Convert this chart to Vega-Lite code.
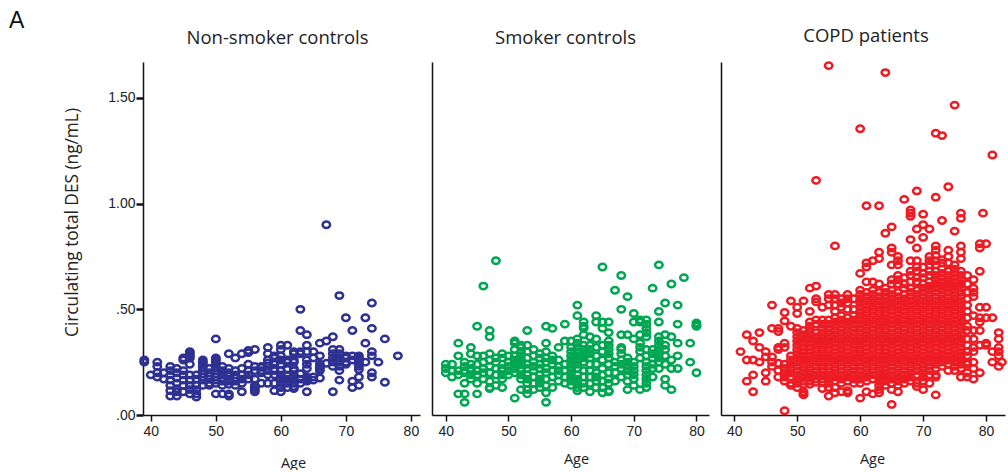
{"$schema":"https://vega.github.io/schema/vega-lite/v6.json","background":"white","padding":{"left":9,"top":9,"right":0,"bottom":0},"title":{"text":"A","anchor":"start","frame":"bounds","font":"Liberation Sans","fontSize":23,"fontWeight":"normal","color":"#111111","dx":-54,"offset":-6},"spacing":12,"config":{"view":{"stroke":null},"axis":{"grid":false,"domainColor":"#111111","domainWidth":1.5,"tickColor":"#111111","labelColor":"#222222","labelFont":"Liberation Sans","labelFontSize":14,"titleFont":"Open Sans","titleFontWeight":"normal","titleColor":"#222222"}},
"datasets":{"non":[
{"age":39,"des":0.26},{"age":39,"des":0.25},{"age":40,"des":0.19},{"age":41,"des":0.25},{"age":41,"des":0.23},{"age":41,"des":0.2},{"age":41,"des":0.18},{"age":42,"des":0.2},{"age":42,"des":0.17},
{"age":43,"des":0.23},{"age":43,"des":0.21},{"age":43,"des":0.19},{"age":43,"des":0.165},{"age":43,"des":0.14},{"age":43,"des":0.115},{"age":43,"des":0.09},
{"age":44,"des":0.22},{"age":44,"des":0.2},{"age":44,"des":0.175},{"age":44,"des":0.15},{"age":44,"des":0.125},{"age":44,"des":0.11},{"age":44,"des":0.09},
{"age":45,"des":0.27},{"age":45,"des":0.26},{"age":45,"des":0.21},{"age":45,"des":0.19},{"age":45,"des":0.165},{"age":45,"des":0.14},{"age":45,"des":0.11},
{"age":46,"des":0.3},{"age":46,"des":0.29},{"age":46,"des":0.28},{"age":46,"des":0.27},{"age":46,"des":0.24},{"age":46,"des":0.19},{"age":46,"des":0.165},{"age":46,"des":0.14},{"age":46,"des":0.12},{"age":46,"des":0.1},
{"age":47,"des":0.19},{"age":47,"des":0.17},{"age":47,"des":0.14},{"age":47,"des":0.12},{"age":47,"des":0.1},{"age":47,"des":0.085},
{"age":48,"des":0.26},{"age":48,"des":0.25},{"age":48,"des":0.24},{"age":48,"des":0.225},{"age":48,"des":0.21},{"age":48,"des":0.195},{"age":48,"des":0.18},{"age":48,"des":0.165},{"age":48,"des":0.14},
{"age":49,"des":0.22},{"age":49,"des":0.2},{"age":49,"des":0.185},{"age":49,"des":0.17},{"age":49,"des":0.15},{"age":49,"des":0.14},
{"age":50,"des":0.36},{"age":50,"des":0.27},{"age":50,"des":0.26},{"age":50,"des":0.25},{"age":50,"des":0.24},{"age":50,"des":0.225},{"age":50,"des":0.21},{"age":50,"des":0.195},{"age":50,"des":0.18},{"age":50,"des":0.165},{"age":50,"des":0.15},{"age":50,"des":0.1},
{"age":51,"des":0.23},{"age":51,"des":0.21},{"age":51,"des":0.2},{"age":51,"des":0.19},{"age":51,"des":0.175},{"age":51,"des":0.16},{"age":51,"des":0.14},{"age":51,"des":0.1},
{"age":52,"des":0.29},{"age":52,"des":0.22},{"age":52,"des":0.2},{"age":52,"des":0.185},{"age":52,"des":0.17},{"age":52,"des":0.16},{"age":52,"des":0.145},{"age":52,"des":0.1},{"age":52,"des":0.09},
{"age":53,"des":0.27},{"age":53,"des":0.21},{"age":53,"des":0.19},{"age":53,"des":0.175},{"age":53,"des":0.16},{"age":53,"des":0.14},
{"age":54,"des":0.29},{"age":54,"des":0.22},{"age":54,"des":0.19},{"age":54,"des":0.17},{"age":54,"des":0.15},{"age":54,"des":0.11},
{"age":55,"des":0.305},{"age":55,"des":0.295},{"age":55,"des":0.24},{"age":55,"des":0.21},{"age":55,"des":0.19},{"age":55,"des":0.17},
{"age":56,"des":0.31},{"age":56,"des":0.23},{"age":56,"des":0.21},{"age":56,"des":0.17},{"age":56,"des":0.14},{"age":56,"des":0.13},{"age":56,"des":0.12},{"age":56,"des":0.11},
{"age":57,"des":0.23},{"age":57,"des":0.225},{"age":57,"des":0.21},{"age":57,"des":0.2},{"age":57,"des":0.15},
{"age":58,"des":0.32},{"age":58,"des":0.29},{"age":58,"des":0.26},{"age":58,"des":0.245},{"age":58,"des":0.23},{"age":58,"des":0.21},{"age":58,"des":0.19},{"age":58,"des":0.15},
{"age":59,"des":0.28},{"age":59,"des":0.27},{"age":59,"des":0.25},{"age":59,"des":0.24},{"age":59,"des":0.21},{"age":59,"des":0.19},{"age":59,"des":0.15},{"age":59,"des":0.115},
{"age":60,"des":0.33},{"age":60,"des":0.31},{"age":60,"des":0.28},{"age":60,"des":0.26},{"age":60,"des":0.24},{"age":60,"des":0.21},{"age":60,"des":0.19},{"age":60,"des":0.17},{"age":60,"des":0.15},{"age":60,"des":0.13},{"age":60,"des":0.11},
{"age":61,"des":0.33},{"age":61,"des":0.26},{"age":61,"des":0.25},{"age":61,"des":0.215},{"age":61,"des":0.19},{"age":61,"des":0.17},{"age":61,"des":0.15},{"age":61,"des":0.13},
{"age":62,"des":0.3},{"age":62,"des":0.29},{"age":62,"des":0.26},{"age":62,"des":0.25},{"age":62,"des":0.22},{"age":62,"des":0.21},{"age":62,"des":0.19},{"age":62,"des":0.17},{"age":62,"des":0.15},{"age":62,"des":0.135},{"age":62,"des":0.125},
{"age":63,"des":0.5},{"age":63,"des":0.4},{"age":63,"des":0.3},{"age":63,"des":0.29},{"age":63,"des":0.195},{"age":63,"des":0.17},{"age":63,"des":0.15},
{"age":64,"des":0.38},{"age":64,"des":0.33},{"age":64,"des":0.3},{"age":64,"des":0.26},{"age":64,"des":0.24},{"age":64,"des":0.22},{"age":64,"des":0.18},{"age":64,"des":0.17},{"age":64,"des":0.16},{"age":64,"des":0.11},
{"age":65,"des":0.3},{"age":65,"des":0.27},{"age":65,"des":0.18},{"age":65,"des":0.165},
{"age":66,"des":0.34},{"age":66,"des":0.28},{"age":66,"des":0.24},{"age":66,"des":0.23},{"age":66,"des":0.22},{"age":66,"des":0.21},{"age":66,"des":0.175},
{"age":67,"des":0.9},{"age":67,"des":0.35},{"age":67,"des":0.245},
{"age":68,"des":0.37},{"age":68,"des":0.31},{"age":68,"des":0.29},{"age":68,"des":0.27},{"age":68,"des":0.25},{"age":68,"des":0.23},{"age":68,"des":0.11},
{"age":69,"des":0.565},{"age":69,"des":0.31},{"age":69,"des":0.29},{"age":69,"des":0.27},{"age":69,"des":0.25},{"age":69,"des":0.23},{"age":69,"des":0.21},{"age":69,"des":0.165},
{"age":70,"des":0.46},{"age":70,"des":0.28},{"age":70,"des":0.27},{"age":70,"des":0.25},{"age":70,"des":0.24},
{"age":71,"des":0.4},{"age":71,"des":0.28},{"age":71,"des":0.26},{"age":71,"des":0.16},{"age":71,"des":0.13},
{"age":72,"des":0.28},{"age":72,"des":0.27},{"age":72,"des":0.26},{"age":72,"des":0.25},{"age":72,"des":0.24},{"age":72,"des":0.23},{"age":72,"des":0.215},{"age":72,"des":0.18},{"age":72,"des":0.14},
{"age":73,"des":0.46},{"age":73,"des":0.34},{"age":73,"des":0.25},
{"age":74,"des":0.53},{"age":74,"des":0.41},{"age":74,"des":0.3},{"age":74,"des":0.28},{"age":74,"des":0.2},{"age":74,"des":0.18},
{"age":75,"des":0.25},{"age":76,"des":0.36},{"age":76,"des":0.155},{"age":78,"des":0.28}],
"smk":[
{"age":40,"des":0.24},{"age":40,"des":0.22},{"age":40,"des":0.2},{"age":41,"des":0.24},{"age":41,"des":0.21},{"age":41,"des":0.18},
{"age":42,"des":0.34},{"age":42,"des":0.28},{"age":42,"des":0.21},{"age":42,"des":0.19},{"age":42,"des":0.1},
{"age":43,"des":0.25},{"age":43,"des":0.23},{"age":43,"des":0.21},{"age":43,"des":0.2},{"age":43,"des":0.15},{"age":43,"des":0.1},{"age":43,"des":0.06},
{"age":44,"des":0.32},{"age":44,"des":0.29},{"age":44,"des":0.24},{"age":44,"des":0.22},{"age":44,"des":0.21},{"age":44,"des":0.19},{"age":44,"des":0.17},
{"age":45,"des":0.42},{"age":45,"des":0.28},{"age":45,"des":0.24},{"age":45,"des":0.21},{"age":45,"des":0.19},{"age":45,"des":0.15},{"age":45,"des":0.1},
{"age":46,"des":0.61},{"age":46,"des":0.28},{"age":46,"des":0.25},{"age":46,"des":0.22},{"age":46,"des":0.2},{"age":46,"des":0.17},
{"age":47,"des":0.4},{"age":47,"des":0.37},{"age":47,"des":0.29},{"age":47,"des":0.26},{"age":47,"des":0.23},{"age":47,"des":0.2},{"age":47,"des":0.16},{"age":47,"des":0.13},{"age":47,"des":0.125},
{"age":48,"des":0.73},{"age":48,"des":0.27},{"age":48,"des":0.25},{"age":48,"des":0.22},{"age":48,"des":0.19},{"age":48,"des":0.14},
{"age":49,"des":0.29},{"age":49,"des":0.27},{"age":49,"des":0.22},{"age":49,"des":0.21},{"age":49,"des":0.19},{"age":49,"des":0.17},{"age":49,"des":0.13},
{"age":50,"des":0.28},{"age":50,"des":0.25},{"age":50,"des":0.23},{"age":50,"des":0.21},{"age":50,"des":0.19},
{"age":51,"des":0.35},{"age":51,"des":0.34},{"age":51,"des":0.31},{"age":51,"des":0.28},{"age":51,"des":0.26},{"age":51,"des":0.24},{"age":51,"des":0.22},{"age":51,"des":0.2},{"age":51,"des":0.08},
{"age":52,"des":0.33},{"age":52,"des":0.32},{"age":52,"des":0.3},{"age":52,"des":0.28},{"age":52,"des":0.26},{"age":52,"des":0.24},{"age":52,"des":0.22},{"age":52,"des":0.21},{"age":52,"des":0.19},{"age":52,"des":0.17},{"age":52,"des":0.12},
{"age":53,"des":0.4},{"age":53,"des":0.33},{"age":53,"des":0.3},{"age":53,"des":0.27},{"age":53,"des":0.24},{"age":53,"des":0.22},{"age":53,"des":0.19},{"age":53,"des":0.17},{"age":53,"des":0.15},{"age":53,"des":0.12},{"age":53,"des":0.1},
{"age":54,"des":0.31},{"age":54,"des":0.28},{"age":54,"des":0.25},{"age":54,"des":0.23},{"age":54,"des":0.21},{"age":54,"des":0.18},{"age":54,"des":0.15},{"age":54,"des":0.12},
{"age":55,"des":0.29},{"age":55,"des":0.27},{"age":55,"des":0.24},{"age":55,"des":0.22},{"age":55,"des":0.19},{"age":55,"des":0.17},{"age":55,"des":0.15},{"age":55,"des":0.13},
{"age":56,"des":0.42},{"age":56,"des":0.34},{"age":56,"des":0.3},{"age":56,"des":0.27},{"age":56,"des":0.25},{"age":56,"des":0.22},{"age":56,"des":0.2},{"age":56,"des":0.17},{"age":56,"des":0.14},{"age":56,"des":0.105},{"age":56,"des":0.06},
{"age":57,"des":0.41},{"age":57,"des":0.28},{"age":57,"des":0.26},{"age":57,"des":0.24},{"age":57,"des":0.21},{"age":57,"des":0.18},{"age":57,"des":0.13},
{"age":58,"des":0.32},{"age":58,"des":0.26},{"age":58,"des":0.23},{"age":58,"des":0.21},{"age":58,"des":0.19},{"age":58,"des":0.16},
{"age":59,"des":0.43},{"age":59,"des":0.35},{"age":59,"des":0.24},{"age":59,"des":0.21},{"age":59,"des":0.18},{"age":59,"des":0.15},
{"age":60,"des":0.35},{"age":60,"des":0.32},{"age":60,"des":0.3},{"age":60,"des":0.28},{"age":60,"des":0.26},{"age":60,"des":0.24},{"age":60,"des":0.22},{"age":60,"des":0.2},{"age":60,"des":0.18},{"age":60,"des":0.16},{"age":60,"des":0.14},
{"age":61,"des":0.52},{"age":61,"des":0.47},{"age":61,"des":0.36},{"age":61,"des":0.34},{"age":61,"des":0.32},{"age":61,"des":0.3},{"age":61,"des":0.28},{"age":61,"des":0.26},{"age":61,"des":0.24},{"age":61,"des":0.22},{"age":61,"des":0.19},{"age":61,"des":0.17},{"age":61,"des":0.15},{"age":61,"des":0.13},{"age":61,"des":0.115},
{"age":62,"des":0.44},{"age":62,"des":0.42},{"age":62,"des":0.41},{"age":62,"des":0.38},{"age":62,"des":0.33},{"age":62,"des":0.31},{"age":62,"des":0.29},{"age":62,"des":0.27},{"age":62,"des":0.25},{"age":62,"des":0.21},{"age":62,"des":0.18},{"age":62,"des":0.15},{"age":62,"des":0.13},
{"age":63,"des":0.37},{"age":63,"des":0.33},{"age":63,"des":0.31},{"age":63,"des":0.29},{"age":63,"des":0.27},{"age":63,"des":0.24},{"age":63,"des":0.21},{"age":63,"des":0.18},{"age":63,"des":0.15},{"age":63,"des":0.11},
{"age":64,"des":0.47},{"age":64,"des":0.44},{"age":64,"des":0.36},{"age":64,"des":0.32},{"age":64,"des":0.28},{"age":64,"des":0.24},{"age":64,"des":0.2},{"age":64,"des":0.18},{"age":64,"des":0.16},{"age":64,"des":0.13},
{"age":65,"des":0.7},{"age":65,"des":0.44},{"age":65,"des":0.41},{"age":65,"des":0.33},{"age":65,"des":0.3},{"age":65,"des":0.26},{"age":65,"des":0.22},{"age":65,"des":0.19},{"age":65,"des":0.16},{"age":65,"des":0.13},{"age":65,"des":0.105},
{"age":66,"des":0.44},{"age":66,"des":0.39},{"age":66,"des":0.35},{"age":66,"des":0.33},{"age":66,"des":0.31},{"age":66,"des":0.29},{"age":66,"des":0.27},{"age":66,"des":0.24},{"age":66,"des":0.2},{"age":66,"des":0.17},{"age":66,"des":0.15},{"age":66,"des":0.115},{"age":66,"des":0.11},
{"age":67,"des":0.59},{"age":67,"des":0.25},{"age":67,"des":0.23},{"age":67,"des":0.2},{"age":67,"des":0.16},
{"age":68,"des":0.66},{"age":68,"des":0.5},{"age":68,"des":0.38},{"age":68,"des":0.32},{"age":68,"des":0.31},{"age":68,"des":0.29},{"age":68,"des":0.26},{"age":68,"des":0.24},{"age":68,"des":0.22},{"age":68,"des":0.18},
{"age":69,"des":0.56},{"age":69,"des":0.38},{"age":69,"des":0.27},{"age":69,"des":0.25},{"age":69,"des":0.23},{"age":69,"des":0.21},{"age":69,"des":0.19},{"age":69,"des":0.16},{"age":69,"des":0.12},
{"age":70,"des":0.48},{"age":70,"des":0.44},{"age":70,"des":0.36},{"age":70,"des":0.25},{"age":70,"des":0.23},{"age":70,"des":0.21},{"age":70,"des":0.19},{"age":70,"des":0.17},{"age":70,"des":0.14},
{"age":71,"des":0.45},{"age":71,"des":0.44},{"age":71,"des":0.38},{"age":71,"des":0.34},{"age":71,"des":0.32},{"age":71,"des":0.3},{"age":71,"des":0.27},{"age":71,"des":0.12},
{"age":72,"des":0.45},{"age":72,"des":0.43},{"age":72,"des":0.41},{"age":72,"des":0.39},{"age":72,"des":0.37},{"age":72,"des":0.31},{"age":72,"des":0.28},{"age":72,"des":0.25},{"age":72,"des":0.23},{"age":72,"des":0.21},{"age":72,"des":0.19},{"age":72,"des":0.17},{"age":72,"des":0.15},{"age":72,"des":0.13},
{"age":73,"des":0.6},{"age":73,"des":0.31},{"age":73,"des":0.29},{"age":73,"des":0.27},{"age":73,"des":0.24},{"age":73,"des":0.22},{"age":73,"des":0.18},
{"age":74,"des":0.71},{"age":74,"des":0.49},{"age":74,"des":0.44},{"age":74,"des":0.37},{"age":74,"des":0.35},{"age":74,"des":0.33},{"age":74,"des":0.31},{"age":74,"des":0.29},{"age":74,"des":0.27},{"age":74,"des":0.25},{"age":74,"des":0.22},
{"age":75,"des":0.53},{"age":75,"des":0.38},{"age":75,"des":0.33},{"age":75,"des":0.31},{"age":75,"des":0.28},{"age":75,"des":0.24},{"age":75,"des":0.17},{"age":75,"des":0.14},
{"age":76,"des":0.62},{"age":76,"des":0.37},{"age":76,"des":0.26},{"age":76,"des":0.22},{"age":76,"des":0.12},
{"age":77,"des":0.52},{"age":77,"des":0.43},{"age":77,"des":0.34},{"age":77,"des":0.28},{"age":77,"des":0.22},
{"age":78,"des":0.65},{"age":79,"des":0.34},{"age":79,"des":0.25},{"age":80,"des":0.435},{"age":80,"des":0.425},{"age":80,"des":0.42},{"age":80,"des":0.2}],
"copd":[
{"age":41,"des":0.3},{"age":42,"des":0.38},{"age":42,"des":0.26},{"age":42,"des":0.16},{"age":43,"des":0.35},{"age":43,"des":0.26},{"age":43,"des":0.19},{"age":43,"des":0.11},{"age":44,"des":0.39},{"age":44,"des":0.32},{"age":44,"des":0.25},
{"age":45,"des":0.3},{"age":45,"des":0.275},{"age":45,"des":0.2},{"age":45,"des":0.16},{"age":46,"des":0.52},{"age":46,"des":0.41},{"age":46,"des":0.275},{"age":46,"des":0.25},{"age":46,"des":0.23},
{"age":47,"des":0.41},{"age":47,"des":0.395},{"age":47,"des":0.32},{"age":47,"des":0.31},{"age":47,"des":0.245},{"age":47,"des":0.21},{"age":47,"des":0.18},
{"age":48,"des":0.485},{"age":48,"des":0.445},{"age":48,"des":0.34},{"age":48,"des":0.32},{"age":48,"des":0.24},{"age":48,"des":0.22},{"age":48,"des":0.2},{"age":48,"des":0.18},{"age":48,"des":0.16},{"age":48,"des":0.02},
{"age":49,"des":0.54},{"age":49,"des":0.42},{"age":49,"des":0.28},{"age":49,"des":0.26},{"age":49,"des":0.24},{"age":49,"des":0.22},{"age":49,"des":0.2},{"age":49,"des":0.18},{"age":49,"des":0.15},{"age":49,"des":0.14},
{"age":50,"des":0.51},{"age":50,"des":0.48},{"age":50,"des":0.41},{"age":50,"des":0.39},{"age":50,"des":0.37},{"age":50,"des":0.35},{"age":50,"des":0.33},{"age":50,"des":0.31},{"age":50,"des":0.29},{"age":50,"des":0.27},{"age":50,"des":0.25},{"age":50,"des":0.23},{"age":50,"des":0.21},{"age":50,"des":0.19},{"age":50,"des":0.17},{"age":50,"des":0.15},{"age":50,"des":0.13},
{"age":51,"des":0.54},{"age":51,"des":0.4},{"age":51,"des":0.38},{"age":51,"des":0.36},{"age":51,"des":0.34},{"age":51,"des":0.32},{"age":51,"des":0.3},{"age":51,"des":0.28},{"age":51,"des":0.26},{"age":51,"des":0.24},{"age":51,"des":0.22},{"age":51,"des":0.2},{"age":51,"des":0.18},{"age":51,"des":0.16},{"age":51,"des":0.145},{"age":51,"des":0.11},{"age":51,"des":0.1},{"age":51,"des":0.095},
{"age":52,"des":0.6},{"age":52,"des":0.49},{"age":52,"des":0.44},{"age":52,"des":0.42},{"age":52,"des":0.4},{"age":52,"des":0.38},{"age":52,"des":0.36},{"age":52,"des":0.34},{"age":52,"des":0.32},{"age":52,"des":0.3},{"age":52,"des":0.28},{"age":52,"des":0.26},{"age":52,"des":0.24},{"age":52,"des":0.22},{"age":52,"des":0.2},{"age":52,"des":0.18},{"age":52,"des":0.16},{"age":52,"des":0.145},
{"age":53,"des":1.11},{"age":53,"des":0.61},{"age":53,"des":0.55},{"age":53,"des":0.535},{"age":53,"des":0.45},{"age":53,"des":0.43},{"age":53,"des":0.39},{"age":53,"des":0.37},{"age":53,"des":0.35},{"age":53,"des":0.33},{"age":53,"des":0.31},{"age":53,"des":0.29},{"age":53,"des":0.27},{"age":53,"des":0.25},{"age":53,"des":0.23},{"age":53,"des":0.21},{"age":53,"des":0.19},{"age":53,"des":0.17},{"age":53,"des":0.155},
{"age":54,"des":0.51},{"age":54,"des":0.45},{"age":54,"des":0.43},{"age":54,"des":0.41},{"age":54,"des":0.39},{"age":54,"des":0.37},{"age":54,"des":0.35},{"age":54,"des":0.33},{"age":54,"des":0.31},{"age":54,"des":0.29},{"age":54,"des":0.27},{"age":54,"des":0.25},{"age":54,"des":0.23},{"age":54,"des":0.21},{"age":54,"des":0.19},{"age":54,"des":0.17},{"age":54,"des":0.155},{"age":54,"des":0.125},
{"age":55,"des":1.653},{"age":55,"des":0.57},{"age":55,"des":0.55},{"age":55,"des":0.52},{"age":55,"des":0.45},{"age":55,"des":0.43},{"age":55,"des":0.41},{"age":55,"des":0.39},{"age":55,"des":0.37},{"age":55,"des":0.35},{"age":55,"des":0.33},{"age":55,"des":0.31},{"age":55,"des":0.29},{"age":55,"des":0.27},{"age":55,"des":0.25},{"age":55,"des":0.23},{"age":55,"des":0.21},{"age":55,"des":0.19},{"age":55,"des":0.17},{"age":55,"des":0.15},{"age":55,"des":0.13},{"age":55,"des":0.09},
{"age":56,"des":0.8},{"age":56,"des":0.57},{"age":56,"des":0.55},{"age":56,"des":0.52},{"age":56,"des":0.49},{"age":56,"des":0.46},{"age":56,"des":0.44},{"age":56,"des":0.42},{"age":56,"des":0.4},{"age":56,"des":0.38},{"age":56,"des":0.36},{"age":56,"des":0.34},{"age":56,"des":0.32},{"age":56,"des":0.3},{"age":56,"des":0.28},{"age":56,"des":0.26},{"age":56,"des":0.24},{"age":56,"des":0.22},{"age":56,"des":0.2},{"age":56,"des":0.18},{"age":56,"des":0.16},{"age":56,"des":0.13},{"age":56,"des":0.105},
{"age":57,"des":0.55},{"age":57,"des":0.53},{"age":57,"des":0.51},{"age":57,"des":0.47},{"age":57,"des":0.45},{"age":57,"des":0.43},{"age":57,"des":0.41},{"age":57,"des":0.39},{"age":57,"des":0.37},{"age":57,"des":0.35},{"age":57,"des":0.33},{"age":57,"des":0.31},{"age":57,"des":0.29},{"age":57,"des":0.27},{"age":57,"des":0.25},{"age":57,"des":0.23},{"age":57,"des":0.21},{"age":57,"des":0.19},{"age":57,"des":0.17},{"age":57,"des":0.15},{"age":57,"des":0.11},
{"age":58,"des":0.57},{"age":58,"des":0.55},{"age":58,"des":0.53},{"age":58,"des":0.5},{"age":58,"des":0.46},{"age":58,"des":0.44},{"age":58,"des":0.42},{"age":58,"des":0.4},{"age":58,"des":0.38},{"age":58,"des":0.36},{"age":58,"des":0.34},{"age":58,"des":0.32},{"age":58,"des":0.3},{"age":58,"des":0.28},{"age":58,"des":0.26},{"age":58,"des":0.24},{"age":58,"des":0.22},{"age":58,"des":0.2},{"age":58,"des":0.18},{"age":58,"des":0.16},{"age":58,"des":0.115},{"age":58,"des":0.105},
{"age":59,"des":0.55},{"age":59,"des":0.5},{"age":59,"des":0.47},{"age":59,"des":0.45},{"age":59,"des":0.43},{"age":59,"des":0.41},{"age":59,"des":0.39},{"age":59,"des":0.37},{"age":59,"des":0.35},{"age":59,"des":0.33},{"age":59,"des":0.31},{"age":59,"des":0.29},{"age":59,"des":0.27},{"age":59,"des":0.25},{"age":59,"des":0.23},{"age":59,"des":0.21},{"age":59,"des":0.19},{"age":59,"des":0.17},{"age":59,"des":0.15},
{"age":60,"des":1.354},{"age":60,"des":0.67},{"age":60,"des":0.59},{"age":60,"des":0.57},{"age":60,"des":0.55},{"age":60,"des":0.53},{"age":60,"des":0.51},{"age":60,"des":0.49},{"age":60,"des":0.47},{"age":60,"des":0.45},{"age":60,"des":0.43},{"age":60,"des":0.41},{"age":60,"des":0.39},{"age":60,"des":0.37},{"age":60,"des":0.35},{"age":60,"des":0.33},{"age":60,"des":0.31},{"age":60,"des":0.29},{"age":60,"des":0.27},{"age":60,"des":0.25},{"age":60,"des":0.23},{"age":60,"des":0.21},{"age":60,"des":0.19},{"age":60,"des":0.17},{"age":60,"des":0.15},{"age":60,"des":0.08},
{"age":61,"des":0.99},{"age":61,"des":0.72},{"age":61,"des":0.7},{"age":61,"des":0.63},{"age":61,"des":0.58},{"age":61,"des":0.56},{"age":61,"des":0.54},{"age":61,"des":0.52},{"age":61,"des":0.5},{"age":61,"des":0.48},{"age":61,"des":0.46},{"age":61,"des":0.44},{"age":61,"des":0.42},{"age":61,"des":0.4},{"age":61,"des":0.38},{"age":61,"des":0.36},{"age":61,"des":0.34},{"age":61,"des":0.32},{"age":61,"des":0.3},{"age":61,"des":0.28},{"age":61,"des":0.26},{"age":61,"des":0.24},{"age":61,"des":0.22},{"age":61,"des":0.2},{"age":61,"des":0.18},{"age":61,"des":0.16},{"age":61,"des":0.11},
{"age":62,"des":0.73},{"age":62,"des":0.63},{"age":62,"des":0.59},{"age":62,"des":0.57},{"age":62,"des":0.55},{"age":62,"des":0.53},{"age":62,"des":0.51},{"age":62,"des":0.49},{"age":62,"des":0.47},{"age":62,"des":0.45},{"age":62,"des":0.43},{"age":62,"des":0.41},{"age":62,"des":0.39},{"age":62,"des":0.37},{"age":62,"des":0.35},{"age":62,"des":0.33},{"age":62,"des":0.31},{"age":62,"des":0.29},{"age":62,"des":0.27},{"age":62,"des":0.25},{"age":62,"des":0.23},{"age":62,"des":0.21},{"age":62,"des":0.19},{"age":62,"des":0.17},{"age":62,"des":0.1},
{"age":63,"des":0.99},{"age":63,"des":0.77},{"age":63,"des":0.74},{"age":63,"des":0.62},{"age":63,"des":0.58},{"age":63,"des":0.56},{"age":63,"des":0.54},{"age":63,"des":0.52},{"age":63,"des":0.5},{"age":63,"des":0.48},{"age":63,"des":0.46},{"age":63,"des":0.44},{"age":63,"des":0.42},{"age":63,"des":0.4},{"age":63,"des":0.38},{"age":63,"des":0.36},{"age":63,"des":0.34},{"age":63,"des":0.32},{"age":63,"des":0.3},{"age":63,"des":0.28},{"age":63,"des":0.26},{"age":63,"des":0.24},{"age":63,"des":0.22},{"age":63,"des":0.2},{"age":63,"des":0.18},{"age":63,"des":0.16},{"age":63,"des":0.14},{"age":63,"des":0.12},{"age":63,"des":0.105},
{"age":64,"des":1.62},{"age":64,"des":0.86},{"age":64,"des":0.6},{"age":64,"des":0.58},{"age":64,"des":0.56},{"age":64,"des":0.54},{"age":64,"des":0.52},{"age":64,"des":0.5},{"age":64,"des":0.48},{"age":64,"des":0.46},{"age":64,"des":0.44},{"age":64,"des":0.42},{"age":64,"des":0.4},{"age":64,"des":0.38},{"age":64,"des":0.36},{"age":64,"des":0.34},{"age":64,"des":0.32},{"age":64,"des":0.3},{"age":64,"des":0.28},{"age":64,"des":0.26},{"age":64,"des":0.24},{"age":64,"des":0.22},{"age":64,"des":0.2},{"age":64,"des":0.18},{"age":64,"des":0.16},{"age":64,"des":0.14},
{"age":65,"des":0.89},{"age":65,"des":0.79},{"age":65,"des":0.77},{"age":65,"des":0.71},{"age":65,"des":0.64},{"age":65,"des":0.62},{"age":65,"des":0.59},{"age":65,"des":0.57},{"age":65,"des":0.55},{"age":65,"des":0.53},{"age":65,"des":0.51},{"age":65,"des":0.49},{"age":65,"des":0.47},{"age":65,"des":0.45},{"age":65,"des":0.43},{"age":65,"des":0.41},{"age":65,"des":0.39},{"age":65,"des":0.37},{"age":65,"des":0.35},{"age":65,"des":0.33},{"age":65,"des":0.31},{"age":65,"des":0.29},{"age":65,"des":0.27},{"age":65,"des":0.25},{"age":65,"des":0.23},{"age":65,"des":0.21},{"age":65,"des":0.19},{"age":65,"des":0.17},{"age":65,"des":0.15},{"age":65,"des":0.12},{"age":65,"des":0.05},
{"age":66,"des":0.75},{"age":66,"des":0.73},{"age":66,"des":0.71},{"age":66,"des":0.66},{"age":66,"des":0.64},{"age":66,"des":0.62},{"age":66,"des":0.58},{"age":66,"des":0.56},{"age":66,"des":0.54},{"age":66,"des":0.52},{"age":66,"des":0.5},{"age":66,"des":0.48},{"age":66,"des":0.46},{"age":66,"des":0.44},{"age":66,"des":0.42},{"age":66,"des":0.4},{"age":66,"des":0.38},{"age":66,"des":0.36},{"age":66,"des":0.34},{"age":66,"des":0.32},{"age":66,"des":0.3},{"age":66,"des":0.28},{"age":66,"des":0.26},{"age":66,"des":0.24},{"age":66,"des":0.22},{"age":66,"des":0.2},{"age":66,"des":0.18},{"age":66,"des":0.16},{"age":66,"des":0.14},{"age":66,"des":0.11},
{"age":67,"des":1.02},{"age":67,"des":0.65},{"age":67,"des":0.62},{"age":67,"des":0.6},{"age":67,"des":0.57},{"age":67,"des":0.55},{"age":67,"des":0.53},{"age":67,"des":0.51},{"age":67,"des":0.49},{"age":67,"des":0.47},{"age":67,"des":0.45},{"age":67,"des":0.43},{"age":67,"des":0.41},{"age":67,"des":0.39},{"age":67,"des":0.37},{"age":67,"des":0.35},{"age":67,"des":0.33},{"age":67,"des":0.31},{"age":67,"des":0.29},{"age":67,"des":0.27},{"age":67,"des":0.25},{"age":67,"des":0.23},{"age":67,"des":0.21},{"age":67,"des":0.19},{"age":67,"des":0.17},{"age":67,"des":0.15},
{"age":68,"des":0.97},{"age":68,"des":0.955},{"age":68,"des":0.94},{"age":68,"des":0.83},{"age":68,"des":0.73},{"age":68,"des":0.68},{"age":68,"des":0.66},{"age":68,"des":0.63},{"age":68,"des":0.6},{"age":68,"des":0.58},{"age":68,"des":0.56},{"age":68,"des":0.54},{"age":68,"des":0.52},{"age":68,"des":0.5},{"age":68,"des":0.48},{"age":68,"des":0.46},{"age":68,"des":0.44},{"age":68,"des":0.42},{"age":68,"des":0.4},{"age":68,"des":0.38},{"age":68,"des":0.36},{"age":68,"des":0.34},{"age":68,"des":0.32},{"age":68,"des":0.3},{"age":68,"des":0.28},{"age":68,"des":0.26},{"age":68,"des":0.24},{"age":68,"des":0.22},{"age":68,"des":0.2},{"age":68,"des":0.18},{"age":68,"des":0.16},
{"age":69,"des":1.06},{"age":69,"des":0.88},{"age":69,"des":0.79},{"age":69,"des":0.73},{"age":69,"des":0.7},{"age":69,"des":0.68},{"age":69,"des":0.65},{"age":69,"des":0.63},{"age":69,"des":0.59},{"age":69,"des":0.57},{"age":69,"des":0.55},{"age":69,"des":0.53},{"age":69,"des":0.51},{"age":69,"des":0.49},{"age":69,"des":0.47},{"age":69,"des":0.45},{"age":69,"des":0.43},{"age":69,"des":0.41},{"age":69,"des":0.39},{"age":69,"des":0.37},{"age":69,"des":0.35},{"age":69,"des":0.33},{"age":69,"des":0.31},{"age":69,"des":0.29},{"age":69,"des":0.27},{"age":69,"des":0.25},{"age":69,"des":0.23},{"age":69,"des":0.21},{"age":69,"des":0.19},{"age":69,"des":0.15},{"age":69,"des":0.135},
{"age":70,"des":0.95},{"age":70,"des":0.9},{"age":70,"des":0.84},{"age":70,"des":0.7},{"age":70,"des":0.67},{"age":70,"des":0.65},{"age":70,"des":0.62},{"age":70,"des":0.6},{"age":70,"des":0.58},{"age":70,"des":0.56},{"age":70,"des":0.54},{"age":70,"des":0.52},{"age":70,"des":0.5},{"age":70,"des":0.48},{"age":70,"des":0.46},{"age":70,"des":0.44},{"age":70,"des":0.42},{"age":70,"des":0.4},{"age":70,"des":0.38},{"age":70,"des":0.36},{"age":70,"des":0.34},{"age":70,"des":0.32},{"age":70,"des":0.3},{"age":70,"des":0.28},{"age":70,"des":0.26},{"age":70,"des":0.24},{"age":70,"des":0.22},{"age":70,"des":0.2},{"age":70,"des":0.18},{"age":70,"des":0.16},{"age":70,"des":0.12},
{"age":71,"des":0.88},{"age":71,"des":0.75},{"age":71,"des":0.73},{"age":71,"des":0.71},{"age":71,"des":0.68},{"age":71,"des":0.66},{"age":71,"des":0.63},{"age":71,"des":0.61},{"age":71,"des":0.59},{"age":71,"des":0.57},{"age":71,"des":0.55},{"age":71,"des":0.53},{"age":71,"des":0.51},{"age":71,"des":0.49},{"age":71,"des":0.47},{"age":71,"des":0.45},{"age":71,"des":0.43},{"age":71,"des":0.41},{"age":71,"des":0.39},{"age":71,"des":0.37},{"age":71,"des":0.35},{"age":71,"des":0.33},{"age":71,"des":0.31},{"age":71,"des":0.29},{"age":71,"des":0.27},{"age":71,"des":0.25},{"age":71,"des":0.23},{"age":71,"des":0.21},{"age":71,"des":0.19},{"age":71,"des":0.15},
{"age":72,"des":1.333},{"age":72,"des":1.03},{"age":72,"des":0.8},{"age":72,"des":0.78},{"age":72,"des":0.755},{"age":72,"des":0.73},{"age":72,"des":0.71},{"age":72,"des":0.68},{"age":72,"des":0.66},{"age":72,"des":0.64},{"age":72,"des":0.62},{"age":72,"des":0.6},{"age":72,"des":0.58},{"age":72,"des":0.56},{"age":72,"des":0.54},{"age":72,"des":0.52},{"age":72,"des":0.5},{"age":72,"des":0.48},{"age":72,"des":0.46},{"age":72,"des":0.44},{"age":72,"des":0.42},{"age":72,"des":0.4},{"age":72,"des":0.38},{"age":72,"des":0.36},{"age":72,"des":0.34},{"age":72,"des":0.32},{"age":72,"des":0.3},{"age":72,"des":0.28},{"age":72,"des":0.26},{"age":72,"des":0.24},{"age":72,"des":0.22},{"age":72,"des":0.19},{"age":72,"des":0.18},{"age":72,"des":0.095},
{"age":73,"des":1.322},{"age":73,"des":0.92},{"age":73,"des":0.735},{"age":73,"des":0.72},{"age":73,"des":0.69},{"age":73,"des":0.67},{"age":73,"des":0.65},{"age":73,"des":0.63},{"age":73,"des":0.61},{"age":73,"des":0.59},{"age":73,"des":0.57},{"age":73,"des":0.55},{"age":73,"des":0.53},{"age":73,"des":0.51},{"age":73,"des":0.49},{"age":73,"des":0.47},{"age":73,"des":0.45},{"age":73,"des":0.43},{"age":73,"des":0.41},{"age":73,"des":0.39},{"age":73,"des":0.37},{"age":73,"des":0.35},{"age":73,"des":0.33},{"age":73,"des":0.31},{"age":73,"des":0.29},{"age":73,"des":0.27},{"age":73,"des":0.25},{"age":73,"des":0.23},
{"age":74,"des":1.08},{"age":74,"des":0.78},{"age":74,"des":0.75},{"age":74,"des":0.72},{"age":74,"des":0.68},{"age":74,"des":0.66},{"age":74,"des":0.64},{"age":74,"des":0.62},{"age":74,"des":0.6},{"age":74,"des":0.58},{"age":74,"des":0.56},{"age":74,"des":0.54},{"age":74,"des":0.52},{"age":74,"des":0.5},{"age":74,"des":0.48},{"age":74,"des":0.46},{"age":74,"des":0.44},{"age":74,"des":0.42},{"age":74,"des":0.4},{"age":74,"des":0.38},{"age":74,"des":0.36},{"age":74,"des":0.34},{"age":74,"des":0.32},{"age":74,"des":0.3},{"age":74,"des":0.28},{"age":74,"des":0.26},{"age":74,"des":0.24},{"age":74,"des":0.21},
{"age":75,"des":1.466},{"age":75,"des":0.87},{"age":75,"des":0.71},{"age":75,"des":0.69},{"age":75,"des":0.67},{"age":75,"des":0.65},{"age":75,"des":0.63},{"age":75,"des":0.61},{"age":75,"des":0.59},{"age":75,"des":0.57},{"age":75,"des":0.55},{"age":75,"des":0.53},{"age":75,"des":0.51},{"age":75,"des":0.49},{"age":75,"des":0.47},{"age":75,"des":0.45},{"age":75,"des":0.43},{"age":75,"des":0.41},{"age":75,"des":0.39},{"age":75,"des":0.37},{"age":75,"des":0.35},{"age":75,"des":0.33},{"age":75,"des":0.31},{"age":75,"des":0.29},{"age":75,"des":0.27},{"age":75,"des":0.25},{"age":75,"des":0.23},{"age":75,"des":0.21},
{"age":76,"des":0.955},{"age":76,"des":0.93},{"age":76,"des":0.8},{"age":76,"des":0.77},{"age":76,"des":0.74},{"age":76,"des":0.68},{"age":76,"des":0.66},{"age":76,"des":0.64},{"age":76,"des":0.62},{"age":76,"des":0.6},{"age":76,"des":0.58},{"age":76,"des":0.56},{"age":76,"des":0.54},{"age":76,"des":0.52},{"age":76,"des":0.5},{"age":76,"des":0.48},{"age":76,"des":0.46},{"age":76,"des":0.44},{"age":76,"des":0.42},{"age":76,"des":0.4},{"age":76,"des":0.38},{"age":76,"des":0.36},{"age":76,"des":0.34},{"age":76,"des":0.32},{"age":76,"des":0.3},{"age":76,"des":0.28},{"age":76,"des":0.26},{"age":76,"des":0.24},{"age":76,"des":0.22},{"age":76,"des":0.18},
{"age":77,"des":0.66},{"age":77,"des":0.62},{"age":77,"des":0.58},{"age":77,"des":0.55},{"age":77,"des":0.52},{"age":77,"des":0.49},{"age":77,"des":0.46},{"age":77,"des":0.42},{"age":77,"des":0.4},{"age":77,"des":0.36},{"age":77,"des":0.33},{"age":77,"des":0.3},{"age":77,"des":0.28},{"age":77,"des":0.25},{"age":77,"des":0.24},{"age":77,"des":0.2},{"age":77,"des":0.18},
{"age":78,"des":0.64},{"age":78,"des":0.6},{"age":78,"des":0.58},{"age":78,"des":0.56},{"age":78,"des":0.47},{"age":78,"des":0.4},{"age":78,"des":0.36},{"age":78,"des":0.32},{"age":78,"des":0.3},{"age":78,"des":0.25},{"age":78,"des":0.22},{"age":78,"des":0.17},
{"age":79,"des":0.81},{"age":79,"des":0.79},{"age":79,"des":0.68},{"age":79.5,"des":0.955},{"age":79,"des":0.51},{"age":79,"des":0.46},{"age":79,"des":0.44},{"age":79,"des":0.4},{"age":79,"des":0.33},{"age":79,"des":0.2},
{"age":80,"des":0.81},{"age":80,"des":0.51},{"age":80,"des":0.46},{"age":80,"des":0.34},{"age":80,"des":0.33},
{"age":81,"des":1.23},{"age":81,"des":0.46},{"age":81,"des":0.3},{"age":81,"des":0.25},{"age":82,"des":0.39},{"age":82,"des":0.36},{"age":82,"des":0.32},{"age":82,"des":0.3},{"age":82,"des":0.28},{"age":82,"des":0.23},{"age":82.5,"des":0.25}]},
"hconcat":[
{"width":277,"height":353,"data":{"name":"non"},"title":{"text":"Non-smoker controls","font":"Open Sans","fontSize":18.5,"fontWeight":"normal","color":"#222222","dx":-4,"offset":15},
"mark":{"type":"point","shape":"M -1 0 A 1 0.85 0 1 1 1 0 A 1 0.85 0 1 1 -1 0 Z","filled":false,"size":56,"strokeWidth":2.5,"color":"#2E3192","opacity":1,"clip":false},
"encoding":{"x":{"field":"age","type":"quantitative","scale":{"domain":[38.8,81.4],"nice":false,"zero":false},"axis":{"values":[40,50,60,70,80],"title":"Age","titleFontSize":14.5,"titleX":150,"titlePadding":18,"tickSize":6,"tickWidth":1.5,"labelPadding":3}},
"y":{"field":"des","type":"quantitative","scale":{"domain":[0,1.67],"nice":false},"axis":{"values":[0,0.5,1,1.5],"labelExpr":"datum.value<1 ? slice(format(datum.value,'.2f'),1) : format(datum.value,'.2f')","title":"Circulating total DES (ng/mL)","titleFontSize":17.3,"titleX":-71,"titleY":160,"titleBaseline":"middle","tickSize":7,"tickWidth":2.5,"labelPadding":1}}}},
{"width":277,"height":353,"data":{"name":"smk"},"title":{"text":"Smoker controls","font":"Open Sans","fontSize":18.5,"fontWeight":"normal","color":"#222222","dx":-5,"offset":15},
"mark":{"type":"point","shape":"M -1 0 A 1 0.85 0 1 1 1 0 A 1 0.85 0 1 1 -1 0 Z","filled":false,"size":56,"strokeWidth":2.5,"color":"#00A651","opacity":1,"clip":false},
"encoding":{"x":{"field":"age","type":"quantitative","scale":{"domain":[37.8,82],"nice":false,"zero":false},"axis":{"values":[40,50,60,70,80],"title":"Age","titleFontSize":14.5,"titleX":144,"titlePadding":14,"tickSize":6,"tickWidth":1.5,"labelPadding":3}},
"y":{"field":"des","type":"quantitative","scale":{"domain":[0,1.67],"nice":false},"axis":{"values":[0,0.5,1,1.5],"labels":false,"ticks":false,"title":null}}}},
{"width":284,"height":353,"data":{"name":"copd"},"title":{"text":"COPD patients","font":"Open Sans","fontSize":18.5,"fontWeight":"normal","color":"#222222","dx":3,"offset":12},
"mark":{"type":"point","shape":"M -1 0 A 1 0.85 0 1 1 1 0 A 1 0.85 0 1 1 -1 0 Z","filled":false,"size":56,"strokeWidth":2.5,"color":"#ED1C24","opacity":1,"clip":false},
"encoding":{"x":{"field":"age","type":"quantitative","scale":{"domain":[37.9,83],"nice":false,"zero":false},"axis":{"values":[40,50,60,70,80],"title":"Age","titleFontSize":14.5,"titleX":151,"titlePadding":14,"tickSize":6,"tickWidth":1.5,"labelPadding":3}},
"y":{"field":"des","type":"quantitative","scale":{"domain":[0,1.67],"nice":false},"axis":{"values":[0,0.5,1,1.5],"labels":false,"ticks":false,"title":null}}}}]}
